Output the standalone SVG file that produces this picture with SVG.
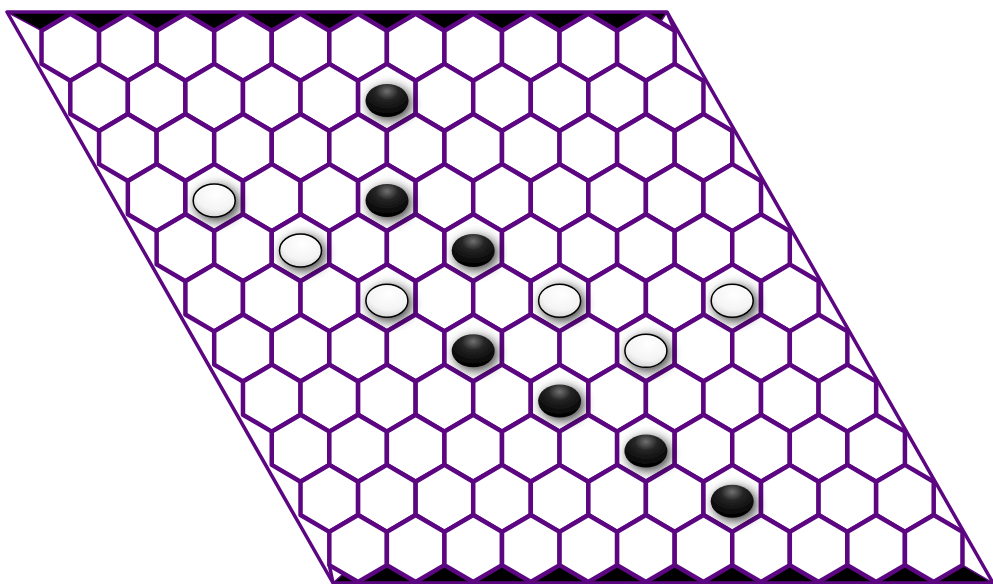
<svg xmlns="http://www.w3.org/2000/svg" xmlns:xlink="http://www.w3.org/1999/xlink" width="993" height="584" viewBox="0 0 993 584">
<style>
.cell{fill:#ffffff;stroke:#5c0682;stroke-width:4.5;stroke-linejoin:round}
.edge{fill:none;stroke:#5c0682;stroke-width:3.5;stroke-linejoin:round}
.band{fill:#000000;stroke:#5c0682;stroke-width:1.5;stroke-linejoin:round}
.black{fill:url(#gb)}
.white{fill:url(#gw);stroke:#000000;stroke-width:1.5}
</style>
<defs>
<polygon id="h" points="0,-33.5 28.78,-16.6 28.78,16.6 0,33.5 -28.78,16.6 -28.78,-16.6"/>
<radialGradient id="gb" cx="0.5" cy="0.22" r="0.75">
<stop offset="0" stop-color="#707070"/>
<stop offset="0.35" stop-color="#252525"/>
<stop offset="1" stop-color="#000000"/>
</radialGradient>
<radialGradient id="gw" cx="0.55" cy="0.3" r="0.8">
<stop offset="0" stop-color="#ffffff"/>
<stop offset="0.6" stop-color="#f4f4f4"/>
<stop offset="1" stop-color="#c8c8c8"/>
</radialGradient>
<filter id="sh" x="-60%" y="-60%" width="220%" height="220%">
<feGaussianBlur in="SourceAlpha" stdDeviation="6"/>
<feOffset dx="3" dy="3" result="b"/>
<feComponentTransfer><feFuncA type="linear" slope="0.8"/></feComponentTransfer>
<feMerge><feMergeNode/><feMergeNode in="SourceGraphic"/></feMerge>
</filter>
</defs>
<rect width="993" height="584" fill="#ffffff"/>
<g id="bands">
<polygon class="band" points="7,12 667,12 660.3,22.25 645.9,13.8 617.12,30.7 588.34,13.8 559.56,30.7 530.78,13.8 502,30.7 473.22,13.8 444.44,30.7 415.66,13.8 386.88,30.7 358.1,13.8 329.32,30.7 300.54,13.8 271.76,30.7 242.98,13.8 214.2,30.7 185.42,13.8 156.64,30.7 127.86,13.8 99.08,30.7 70.3,13.8 41.52,30.7"/>
<polygon class="band" points="333,583 343.7,573.5 358.1,582 386.88,565.1 415.66,582 444.44,565.1 473.22,582 502,565.1 530.78,582 559.56,565.1 588.34,582 617.12,565.1 645.9,582 674.68,565.1 703.46,582 732.24,565.1 761.02,582 789.8,565.1 818.58,582 847.36,565.1 876.14,582 904.92,565.1 933.7,582 962.48,565.1 993,583"/>
</g>
<g id="cells">
<g transform="translate(70.3,47.3)"><use href="#h" class="cell" x="0"/><use href="#h" class="cell" x="57.56"/><use href="#h" class="cell" x="115.12"/><use href="#h" class="cell" x="172.68"/><use href="#h" class="cell" x="230.24"/><use href="#h" class="cell" x="287.8"/><use href="#h" class="cell" x="345.36"/><use href="#h" class="cell" x="402.92"/><use href="#h" class="cell" x="460.48"/><use href="#h" class="cell" x="518.04"/><use href="#h" class="cell" x="575.6"/></g>
<g transform="translate(99.08,97.42)"><use href="#h" class="cell" x="0"/><use href="#h" class="cell" x="57.56"/><use href="#h" class="cell" x="115.12"/><use href="#h" class="cell" x="172.68"/><use href="#h" class="cell" x="230.24"/><use href="#h" class="cell" x="287.8"/><use href="#h" class="cell" x="345.36"/><use href="#h" class="cell" x="402.92"/><use href="#h" class="cell" x="460.48"/><use href="#h" class="cell" x="518.04"/><use href="#h" class="cell" x="575.6"/></g>
<g transform="translate(127.86,147.54)"><use href="#h" class="cell" x="0"/><use href="#h" class="cell" x="57.56"/><use href="#h" class="cell" x="115.12"/><use href="#h" class="cell" x="172.68"/><use href="#h" class="cell" x="230.24"/><use href="#h" class="cell" x="287.8"/><use href="#h" class="cell" x="345.36"/><use href="#h" class="cell" x="402.92"/><use href="#h" class="cell" x="460.48"/><use href="#h" class="cell" x="518.04"/><use href="#h" class="cell" x="575.6"/></g>
<g transform="translate(156.64,197.66)"><use href="#h" class="cell" x="0"/><use href="#h" class="cell" x="57.56"/><use href="#h" class="cell" x="115.12"/><use href="#h" class="cell" x="172.68"/><use href="#h" class="cell" x="230.24"/><use href="#h" class="cell" x="287.8"/><use href="#h" class="cell" x="345.36"/><use href="#h" class="cell" x="402.92"/><use href="#h" class="cell" x="460.48"/><use href="#h" class="cell" x="518.04"/><use href="#h" class="cell" x="575.6"/></g>
<g transform="translate(185.42,247.78)"><use href="#h" class="cell" x="0"/><use href="#h" class="cell" x="57.56"/><use href="#h" class="cell" x="115.12"/><use href="#h" class="cell" x="172.68"/><use href="#h" class="cell" x="230.24"/><use href="#h" class="cell" x="287.8"/><use href="#h" class="cell" x="345.36"/><use href="#h" class="cell" x="402.92"/><use href="#h" class="cell" x="460.48"/><use href="#h" class="cell" x="518.04"/><use href="#h" class="cell" x="575.6"/></g>
<g transform="translate(214.2,297.9)"><use href="#h" class="cell" x="0"/><use href="#h" class="cell" x="57.56"/><use href="#h" class="cell" x="115.12"/><use href="#h" class="cell" x="172.68"/><use href="#h" class="cell" x="230.24"/><use href="#h" class="cell" x="287.8"/><use href="#h" class="cell" x="345.36"/><use href="#h" class="cell" x="402.92"/><use href="#h" class="cell" x="460.48"/><use href="#h" class="cell" x="518.04"/><use href="#h" class="cell" x="575.6"/></g>
<g transform="translate(242.98,348.02)"><use href="#h" class="cell" x="0"/><use href="#h" class="cell" x="57.56"/><use href="#h" class="cell" x="115.12"/><use href="#h" class="cell" x="172.68"/><use href="#h" class="cell" x="230.24"/><use href="#h" class="cell" x="287.8"/><use href="#h" class="cell" x="345.36"/><use href="#h" class="cell" x="402.92"/><use href="#h" class="cell" x="460.48"/><use href="#h" class="cell" x="518.04"/><use href="#h" class="cell" x="575.6"/></g>
<g transform="translate(271.76,398.14)"><use href="#h" class="cell" x="0"/><use href="#h" class="cell" x="57.56"/><use href="#h" class="cell" x="115.12"/><use href="#h" class="cell" x="172.68"/><use href="#h" class="cell" x="230.24"/><use href="#h" class="cell" x="287.8"/><use href="#h" class="cell" x="345.36"/><use href="#h" class="cell" x="402.92"/><use href="#h" class="cell" x="460.48"/><use href="#h" class="cell" x="518.04"/><use href="#h" class="cell" x="575.6"/></g>
<g transform="translate(300.54,448.26)"><use href="#h" class="cell" x="0"/><use href="#h" class="cell" x="57.56"/><use href="#h" class="cell" x="115.12"/><use href="#h" class="cell" x="172.68"/><use href="#h" class="cell" x="230.24"/><use href="#h" class="cell" x="287.8"/><use href="#h" class="cell" x="345.36"/><use href="#h" class="cell" x="402.92"/><use href="#h" class="cell" x="460.48"/><use href="#h" class="cell" x="518.04"/><use href="#h" class="cell" x="575.6"/></g>
<g transform="translate(329.32,498.38)"><use href="#h" class="cell" x="0"/><use href="#h" class="cell" x="57.56"/><use href="#h" class="cell" x="115.12"/><use href="#h" class="cell" x="172.68"/><use href="#h" class="cell" x="230.24"/><use href="#h" class="cell" x="287.8"/><use href="#h" class="cell" x="345.36"/><use href="#h" class="cell" x="402.92"/><use href="#h" class="cell" x="460.48"/><use href="#h" class="cell" x="518.04"/><use href="#h" class="cell" x="575.6"/></g>
<g transform="translate(358.1,548.5)"><use href="#h" class="cell" x="0"/><use href="#h" class="cell" x="57.56"/><use href="#h" class="cell" x="115.12"/><use href="#h" class="cell" x="172.68"/><use href="#h" class="cell" x="230.24"/><use href="#h" class="cell" x="287.8"/><use href="#h" class="cell" x="345.36"/><use href="#h" class="cell" x="402.92"/><use href="#h" class="cell" x="460.48"/><use href="#h" class="cell" x="518.04"/><use href="#h" class="cell" x="575.6"/></g>
</g>
<g id="border">
<polygon class="edge" points="7,12 667,12 993,583 333,583"/>
<line class="edge" x1="667" y1="12" x2="674.68" y2="30.7"/>
<line class="edge" x1="333" y1="583" x2="329.32" y2="565.1"/>
</g>
<g id="stones" filter="url(#sh)">
<g id="b1"><ellipse class="black" cx="387" cy="100.5" rx="21.5" ry="16.5"/></g>
<g id="b2"><ellipse class="black" cx="387" cy="200.5" rx="21.5" ry="16.5"/></g>
<g id="b3"><ellipse class="black" cx="473.2" cy="250.5" rx="21.5" ry="16.5"/></g>
<g id="b4"><ellipse class="black" cx="473.2" cy="350.8" rx="21.5" ry="16.5"/></g>
<g id="b5"><ellipse class="black" cx="559.6" cy="401" rx="21.5" ry="16.5"/></g>
<g id="b6"><ellipse class="black" cx="645.9" cy="451" rx="21.5" ry="16.5"/></g>
<g id="b7"><ellipse class="black" cx="732.2" cy="501.2" rx="21.5" ry="16.5"/></g>
<g id="w1"><ellipse class="white" cx="214.2" cy="200.5" rx="21" ry="16.5"/></g>
<g id="w2"><ellipse class="white" cx="300.5" cy="250.5" rx="21" ry="16.5"/></g>
<g id="w3"><ellipse class="white" cx="386.9" cy="300.7" rx="21" ry="16.5"/></g>
<g id="w4"><ellipse class="white" cx="559.6" cy="300.7" rx="21" ry="16.5"/></g>
<g id="w5"><ellipse class="white" cx="732.2" cy="300.7" rx="21" ry="16.5"/></g>
<g id="w6"><ellipse class="white" cx="645.9" cy="350.8" rx="21" ry="16.5"/></g>
</g>
</svg>
